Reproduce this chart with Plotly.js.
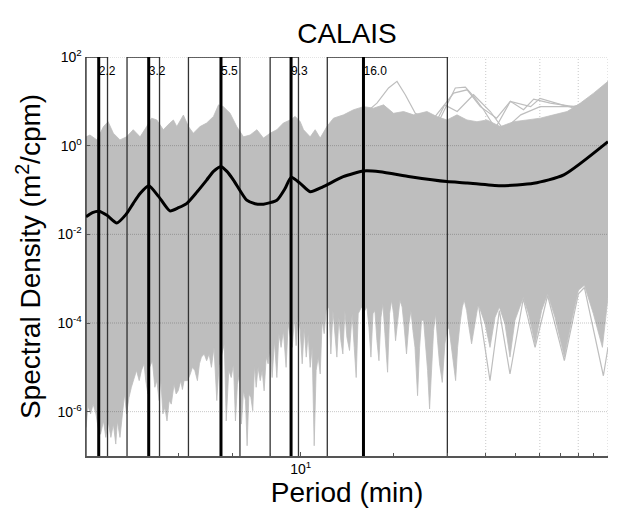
<!DOCTYPE html>
<html>
<head>
<meta charset="utf-8">
<script src="https://cdn.plot.ly/plotly-3.0.1.min.js"></script>
<style>html,body{margin:0;padding:0;background:#fff;}#chart{width:618px;height:513px;}</style>
</head>
<body>
<div id="chart"></div>
<script>
// ---- Data ----
// Axis extents (period in minutes, spectral density in m^2/cpm)
const periodRange = [2, 100];
const densityRange = [1e-7, 1e2];

// Upper envelope of the grey spectra cloud
const upperPeriod = [2.0, 2.06, 2.17, 2.28, 2.36, 2.455, 2.58, 2.71, 2.85, 3.0, 3.15, 3.27, 3.4, 3.57, 3.75, 3.85, 3.95, 4.15, 4.31, 4.47, 4.7, 4.94, 5.2, 5.4, 5.6, 5.89, 6.19, 6.51, 6.84, 7.2, 7.56, 7.95, 8.36, 8.78, 9.24, 9.59, 9.96, 10.21, 10.73, 11.14, 11.57, 12.16, 12.78, 13.78, 14.85, 16.01, 17.26, 18.6, 20.05, 21.61, 23.29, 25.75, 27.74, 29.91, 32.25, 34.75, 37.46, 40.37, 44.63, 49.3, 54.5, 60.2, 66.5, 73.6, 81.3, 89.8, 100];
const upperDensity = [1.58, 1.74, 1.35, 2.69, 3.47, 1.91, 1.35, 1.58, 2.29, 1.58, 2.69, 4.17, 3.8, 2.29, 3.24, 3.8, 2.69, 4.9, 2.69, 1.91, 2.69, 3.24, 4.57, 8.32, 7.59, 5.37, 2.69, 1.58, 1.74, 2.29, 1.48, 1.91, 2.29, 3.24, 3.8, 4.57, 3.47, 2.29, 1.58, 2.29, 1.48, 2.69, 4.17, 4.95, 6.46, 7.59, 7.01, 8.32, 5.37, 5.89, 4.95, 5.89, 4.53, 3.8, 4.95, 3.8, 3.47, 3.8, 2.69, 3.47, 3.8, 4.17, 4.95, 5.89, 9.12, 15.3, 28.2];

// Lower envelope of the grey spectra cloud
const lowerPeriod = [2.0, 2.03, 2.07, 2.11, 2.155, 2.19, 2.23, 2.28, 2.32, 2.36, 2.41, 2.455, 2.5, 2.53, 2.58, 2.63, 2.67, 2.71, 2.76, 2.81, 2.87, 2.92, 2.98, 3.03, 3.09, 3.13, 3.18, 3.22, 3.29, 3.35, 3.4, 3.46, 3.5, 3.56, 3.61, 3.67, 3.73, 3.79, 3.87, 3.93, 3.99, 4.07, 4.12, 4.17, 4.28, 4.37, 4.44, 4.52, 4.61, 4.68, 4.75, 4.85, 4.94, 5.03, 5.12, 5.22, 5.33, 5.42, 5.64, 5.72, 5.83, 5.94, 6.04, 6.13, 6.22, 6.32, 6.41, 6.51, 6.61, 6.69, 6.78, 6.88, 6.98, 7.07, 7.16, 7.26, 7.38, 7.49, 7.6, 7.72, 7.83, 7.95, 8.07, 8.21, 8.36, 8.49, 8.63, 8.78, 8.96, 9.1, 9.38, 9.54, 9.66, 9.81, 9.96, 10.11, 10.26, 10.42, 10.57, 10.73, 10.89, 11.06, 11.22, 11.4, 11.57, 11.74, 11.92, 12.1, 12.35, 12.53, 12.73, 12.92, 13.11, 13.31, 13.51, 13.71, 13.92, 14.13, 14.41, 14.7, 14.93, 15.15, 15.38, 15.77, 16.17, 16.42, 16.67, 16.92, 17.18, 17.43, 17.7, 17.97, 18.24, 18.51, 18.79, 19.17, 19.46, 19.75, 20.05, 20.35, 20.66, 21.03, 21.38, 21.71, 22.09, 22.49, 22.84, 23.18, 23.54, 24.0, 24.37, 24.73, 25.11, 25.49, 25.87, 26.26, 26.66, 27.06, 27.47, 27.88, 28.3, 28.88, 29.45, 29.91, 30.36, 30.82, 31.42, 31.92, 32.4, 32.97, 33.56, 34.06, 34.66, 35.28, 35.98, 36.71, 37.35, 37.84, 39.8, 41.3, 42.9, 44.3, 46.2, 47.97, 49.8, 53.0, 55.1, 57.9, 60.8, 63.6, 67.2, 72.1, 76.2, 80.1, 83.8, 89.6, 95.9, 100];
const lowerDensity = [4.37e-7, 1.35e-6, 8.9e-7, 1.48e-6, 8.9e-7, 4.37e-7, 3.09e-7, 6.17e-7, 2.63e-7, 6.17e-7, 2.63e-7, 5.25e-7, 1.86e-7, 6.17e-7, 2.63e-7, 8.9e-7, 2.51e-6, 8.9e-7, 2.09e-6, 3.55e-6, 5.89e-6, 8.51e-6, 5.01e-6, 8.51e-6, 1.2e-5, 5.01e-6, 2.51e-6, 1.0e-5, 1.41e-5, 3.55e-6, 5.01e-6, 1.78e-6, 5.89e-6, 8.9e-7, 1.26e-6, 6.17e-7, 1.78e-6, 1.48e-6, 4.17e-6, 2.51e-6, 2.95e-6, 5.01e-6, 3.16e-6, 5.01e-6, 5.01e-6, 7.08e-6, 1.0e-5, 8.51e-6, 5.01e-6, 1.2e-5, 1.7e-5, 2.0e-5, 1.41e-5, 2.0e-5, 1.0e-5, 2.82e-5, 1.78e-6, 1.1e-5, 3.39e-5, 6.17e-7, 8.51e-6, 5.89e-6, 1.2e-5, 6.17e-7, 4.17e-6, 7.08e-6, 5.25e-7, 2.95e-6, 1.78e-6, 1.7e-7, 2.51e-6, 2.09e-6, 1.05e-6, 1.1e-5, 3.55e-6, 1.0e-5, 5.01e-6, 8.51e-6, 2.95e-6, 1.7e-5, 1.2e-5, 2.82e-5, 5.89e-6, 3.98e-5, 5.89e-6, 5.75e-5, 2.82e-5, 6.76e-5, 1.0e-5, 9.55e-5, 2.82e-5, 1.35e-4, 3.09e-5, 1.62e-4, 6.76e-5, 1.2e-5, 7.94e-5, 1.7e-5, 5.75e-5, 1.0e-5, 2.82e-5, 1.7e-7, 8.51e-6, 1.7e-5, 7.08e-6, 1.15e-4, 5.75e-5, 1.91e-4, 2.29e-4, 2.0e-5, 1.91e-4, 5.75e-5, 1.7e-5, 1.35e-4, 3.98e-5, 2.0e-5, 1.91e-4, 4.79e-5, 2.4e-5, 1.62e-4, 2.82e-5, 5.89e-6, 1.62e-4, 2.29e-4, 1.91e-4, 2.29e-4, 7.94e-5, 1.7e-5, 1.62e-4, 1.91e-4, 3.98e-5, 1.41e-5, 1.35e-4, 2.69e-4, 5.75e-5, 7.76e-6, 1.62e-4, 3.24e-4, 1.62e-4, 3.98e-5, 1.15e-4, 3.24e-4, 2.29e-4, 7.94e-5, 2.0e-5, 9.55e-5, 1.91e-4, 6.76e-5, 2.82e-5, 2.29e-6, 2.82e-5, 1.15e-4, 1.15e-4, 2.82e-5, 8.51e-6, 1.15e-6, 1.2e-5, 6.76e-5, 1.62e-4, 3.98e-5, 1.2e-5, 4.57e-6, 3.39e-5, 6.76e-5, 7.94e-5, 3.98e-5, 1.2e-5, 5.01e-6, 2.82e-5, 9.55e-5, 2.29e-4, 3.24e-4, 1.91e-4, 7.94e-5, 3.39e-5, 7.94e-5, 1.62e-4, 2.69e-4, 9.55e-5, 2.82e-5, 1.35e-4, 2.29e-4, 9.55e-5, 1.7e-5, 1.15e-4, 3.8e-4, 1.62e-4, 3.39e-5, 1.91e-4, 4.57e-4, 1.35e-4, 1.7e-5, 1.15e-4, 5.5e-4, 7.08e-4, 1.62e-4, 2.82e-5, 3.8e-4];

// Individual outlying spectra (drawn as separate grey lines)
const outlierHighA_P = [27.0, 28.45, 31.84, 34.33, 36.53, 39.37, 42.98, 48.1, 53.1, 57.3, 64.9, 71.7, 77.3, 85.0];
const outlierHighA_D = [3.8, 4.17, 20.0, 20.9, 12.9, 6.46, 2.45, 10.0, 6.46, 11.2, 9.12, 8.32, 7.59, 9.12];
const outlierHighB_P = [16.5, 17.7, 19.31, 20.57, 21.89, 23.59, 25.0];
const outlierHighB_D = [6.0, 9.12, 20.0, 28.2, 14.1, 5.37, 4.5];
const outlierHighC_P = [27.0, 28.45, 31.45, 34.8, 38.4, 43.4, 48.1, 56.0, 60.1, 70.9, 77.3, 84.0];
const outlierHighC_D = [4.0, 6.46, 15.3, 18.2, 7.59, 4.17, 10.0, 7.59, 11.7, 8.32, 7.08, 8.5];
const outlierHighD_P = [28.0, 29.4, 32.3, 36.5, 41.4, 45.8, 52.0, 60.1, 73.6, 80.0];
const outlierHighD_D = [4.2, 8.32, 5.89, 14.1, 5.89, 2.26, 4.95, 7.59, 7.59, 7.8];
const outlierLow_P = [37.84, 41.3, 44.3, 47.97, 53.0, 57.9, 63.6, 72.1, 80.1, 83.8, 96.6, 100];
const outlierLow_D = [2.69e-4, 5.01e-6, 1.91e-4, 7.08e-6, 3.55e-4, 2.82e-5, 4.17e-4, 1.41e-5, 4.57e-4, 6.31e-4, 6.46e-6, 2.82e-5];

// Mean spectrum (thick black line)
const meanPeriod = [2.0, 2.1, 2.2, 2.34, 2.52, 2.7, 2.85, 3.0, 3.2, 3.45, 3.75, 4.0, 4.26, 4.6, 4.94, 5.2, 5.5, 5.75, 6.04, 6.67, 7.1, 7.56, 8.36, 8.9, 9.3, 9.96, 10.73, 11.8, 13.75, 16.0, 18.1, 22.7, 29.9, 34.8, 44.6, 57.3, 71.8, 100];
const meanDensity = [0.0248, 0.0309, 0.0333, 0.0269, 0.0181, 0.0282, 0.0501, 0.0832, 0.1245, 0.0708, 0.0338, 0.0398, 0.0501, 0.0912, 0.1675, 0.263, 0.335, 0.263, 0.1675, 0.0589, 0.049, 0.0479, 0.0589, 0.1096, 0.1928, 0.1413, 0.0912, 0.1175, 0.1995, 0.268, 0.258, 0.1995, 0.155, 0.1445, 0.1245, 0.1413, 0.219, 1.23];

// Peak periods and the band (box) around each peak
const peakPeriods = [2.2, 3.2, 5.5, 9.3, 16.0];
const peakLabels = ['2.2', '3.2', '5.5', '9.3', '16.0'];
const bandLow = [2.0, 2.72, 4.31, 7.95, 12.2];
const bandHigh = [2.35, 3.47, 6.34, 9.83, 30.0];
const labelDensity = 45;

// Axis ticks
const yTickVals = [1e-6, 1e-4, 1e-2, 1e0, 1e2];
const yTickText = ['10<sup>-6</sup>', '10<sup>-4</sup>', '10<sup>-2</sup>', '10<sup>0</sup>', '10<sup>2</sup>'];
const xTickVals = [10, 100];
const xTickText = ['10<sup>1</sup>', '10<sup>2</sup>'];
const xMinorTicks = [4, 6, 8, 20, 30, 40, 50, 60, 70, 80, 90];
const xGridVals = [40, 60, 80, 100];

// ---- Build traces ----
const GREY = '#bebebe';
const traces = [];

// vertical dotted grid (under the cloud)
const vgx = [], vgy = [];
xGridVals.forEach(v => { vgx.push(v, v, null); vgy.push(densityRange[0], densityRange[1], null); });
traces.push({x: vgx, y: vgy, mode: 'lines', line: {color: '#c8c8c8', width: 1, dash: '1px,2px'}, hoverinfo: 'skip', cliponaxis: false});

// grey cloud
traces.push({
  x: upperPeriod.concat(lowerPeriod.slice().reverse()),
  y: upperDensity.concat(lowerDensity.slice().reverse()),
  mode: 'lines', fill: 'toself', fillcolor: GREY,
  line: {color: GREY, width: 0.8}, hoverinfo: 'skip'
});
[[outlierHighA_P, outlierHighA_D], [outlierHighB_P, outlierHighB_D], [outlierHighC_P, outlierHighC_D],
 [outlierHighD_P, outlierHighD_D], [outlierLow_P, outlierLow_D]].forEach(([p, d]) => {
  traces.push({x: p, y: d, mode: 'lines', line: {color: GREY, width: 1.2}, hoverinfo: 'skip'});
});

// horizontal grid over the cloud
const hgx = [], hgy = [];
yTickVals.forEach(v => { hgx.push(periodRange[0], periodRange[1], null); hgy.push(v, v, null); });
traces.push({x: hgx, y: hgy, mode: 'lines', line: {color: 'rgba(0,0,0,0.22)', width: 1, dash: '1px,1px'}, hoverinfo: 'skip', cliponaxis: false});

// boxes around each peak
const bx = [], by = [];
bandLow.forEach((lo, i) => {
  const hi = bandHigh[i];
  bx.push(lo, lo, hi, hi, null);
  by.push(densityRange[0], densityRange[1], densityRange[1], densityRange[0], null);
});
traces.push({x: bx, y: by, mode: 'lines', line: {color: '#333', width: 1.3}, hoverinfo: 'skip', cliponaxis: false});

// thick peak lines
const px = [], py = [];
peakPeriods.forEach(p => { px.push(p, p, null); py.push(densityRange[0], densityRange[1], null); });
traces.push({x: px, y: py, mode: 'lines', line: {color: '#000', width: 3}, hoverinfo: 'skip'});

// mean spectrum
traces.push({x: meanPeriod, y: meanDensity, mode: 'lines', line: {color: '#000', width: 3, shape: 'spline', smoothing: 0.6}, hoverinfo: 'skip'});

// peak labels
traces.push({x: peakPeriods, y: peakPeriods.map(() => labelDensity), mode: 'text', text: peakLabels,
  textposition: 'middle right', textfont: {family: 'Liberation Sans, Arial, sans-serif', size: 12, color: '#000'}, hoverinfo: 'skip', cliponaxis: false});

const FONT = 'Liberation Sans, Arial, sans-serif';
const layout = {
  width: 618, height: 513,
  margin: {l: 86, r: 10, t: 57, b: 57},
  paper_bgcolor: '#fff', plot_bgcolor: '#fff',
  showlegend: false,
  font: {family: FONT, color: '#000'},
  title: {text: 'CALAIS', font: {family: FONT, size: 28, color: '#000'}, x: 0.5615, xanchor: 'center', y: 0.935, yanchor: 'middle'},
  xaxis: {
    type: 'log', range: [Math.log10(periodRange[0]), Math.log10(periodRange[1])],
    tickmode: 'array', tickvals: xTickVals, ticktext: xTickText,
    ticks: 'inside', ticklen: 4, tickcolor: '#555', tickfont: {size: 14, family: FONT},
    showgrid: false, zeroline: false, showline: true, linecolor: '#555', linewidth: 1.5,
    minor: {tickmode: 'array', tickvals: xMinorTicks, ticks: 'inside', ticklen: 3, tickcolor: '#555', showgrid: false},
    title: {text: 'Period (min)', font: {family: FONT, size: 28}, standoff: 6}
  },
  yaxis: {
    type: 'log', range: [Math.log10(densityRange[0]), Math.log10(densityRange[1])],
    tickmode: 'array', tickvals: yTickVals, ticktext: yTickText,
    ticks: 'inside', ticklen: 4, tickcolor: '#555', tickfont: {size: 14, family: FONT},
    showgrid: false, zeroline: false, showline: true, linecolor: '#555', linewidth: 1.5,
    title: {text: 'Spectral Density (m<sup>2</sup>/cpm)', font: {family: FONT, size: 28}, standoff: 8}
  }
};
Plotly.newPlot('chart', traces, layout, {displayModeBar: false, staticPlot: true});
</script>
</body>
</html>
